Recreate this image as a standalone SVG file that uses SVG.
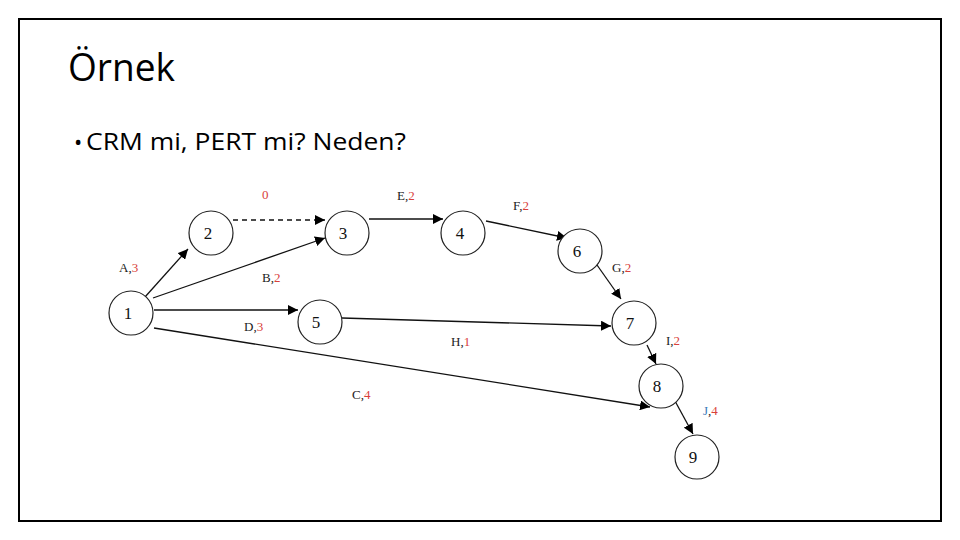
<svg xmlns="http://www.w3.org/2000/svg" width="960" height="540" viewBox="0 0 960 540">
<defs>
<marker id="ah" viewBox="0 0 10 10" refX="10" refY="5" markerWidth="10" markerHeight="10" markerUnits="userSpaceOnUse" orient="auto">
<path d="M0,0 L10,5 L0,10 z" fill="#000"/>
</marker>
<style>
.nd{fill:#fff;stroke:#222;stroke-width:1.2}
.nt{font-family:"Liberation Serif",serif;font-size:17px;fill:#111;text-anchor:middle}
.ed{stroke:#111;stroke-width:1.3;fill:none;marker-end:url(#ah)}
.lb{font-family:"Liberation Serif",serif;font-size:13px;fill:#222}
.r{fill:#d9403a}
</style>
</defs>
<rect x="0" y="0" width="960" height="540" fill="#fff"/>
<rect x="19" y="19" width="922" height="502" fill="none" stroke="#000" stroke-width="2"/>
<text x="68" y="81" font-family="Open Sans, sans-serif" font-size="38" fill="#000" textLength="107" lengthAdjust="spacingAndGlyphs">Örnek</text>
<text x="74" y="150" font-family="Open Sans, sans-serif" font-size="22" fill="#000">•</text>
<text x="86" y="150" font-family="Open Sans, sans-serif" font-size="23" fill="#000" textLength="320" lengthAdjust="spacingAndGlyphs">CRM mi, PERT mi? Neden?</text>
<g id="connectors">
<line class="ed" x1="145" y1="297" x2="188" y2="249"/>
<line class="ed" x1="153" y1="298" x2="325" y2="238"/>
<line class="ed" x1="154" y1="310" x2="298" y2="310"/>
<line class="ed" x1="154" y1="328" x2="650" y2="407"/>
<line class="ed" x1="233" y1="220" x2="325" y2="220" stroke-dasharray="5,4"/>
<line class="ed" x1="369" y1="219" x2="443" y2="219"/>
<line class="ed" x1="486" y1="221" x2="567" y2="238"/>
<line class="ed" x1="597" y1="265" x2="621" y2="299"/>
<line class="ed" x1="342" y1="318" x2="611" y2="326"/>
<line class="ed" x1="647" y1="345" x2="656" y2="364"/>
<line class="ed" x1="675" y1="401" x2="693" y2="434"/>
</g>
<g id="n1"><circle class="nd" cx="131" cy="313" r="22"/><text class="nt" x="128" y="319">1</text></g>
<g id="n2"><circle class="nd" cx="211" cy="233" r="22"/><text class="nt" x="208" y="239">2</text></g>
<g id="n3"><circle class="nd" cx="347" cy="233" r="22"/><text class="nt" x="343" y="239">3</text></g>
<g id="n4"><circle class="nd" cx="463" cy="233" r="22"/><text class="nt" x="460" y="239">4</text></g>
<g id="n5"><circle class="nd" cx="320" cy="322" r="22"/><text class="nt" x="316" y="328">5</text></g>
<g id="n6"><circle class="nd" cx="580" cy="251" r="22"/><text class="nt" x="577" y="257">6</text></g>
<g id="n7"><circle class="nd" cx="634" cy="323" r="22"/><text class="nt" x="630" y="329">7</text></g>
<g id="n8"><circle class="nd" cx="661" cy="386" r="22"/><text class="nt" x="657" y="392">8</text></g>
<g id="n9"><circle class="nd" cx="697" cy="457" r="22"/><text class="nt" x="693" y="463">9</text></g>
<g id="labels">
<text class="lb r" x="262" y="199">0</text>
<text class="lb" x="119" y="272">A,<tspan class="r">3</tspan></text>
<text class="lb" x="262" y="282">B,<tspan class="r">2</tspan></text>
<text class="lb" x="244" y="331">D,<tspan class="r">3</tspan></text>
<text class="lb" x="397" y="200">E,<tspan class="r">2</tspan></text>
<text class="lb" x="513" y="210">F,<tspan class="r">2</tspan></text>
<text class="lb" x="612" y="272">G,<tspan class="r">2</tspan></text>
<text class="lb" x="451" y="346">H,<tspan class="r">1</tspan></text>
<text class="lb" x="352" y="399">C,<tspan class="r">4</tspan></text>
<text class="lb" x="666" y="345">I,<tspan class="r">2</tspan></text>
<text class="lb" x="703" y="415"><tspan fill="#3a7ab8">J</tspan>,<tspan class="r">4</tspan></text>
</g>
</svg>
